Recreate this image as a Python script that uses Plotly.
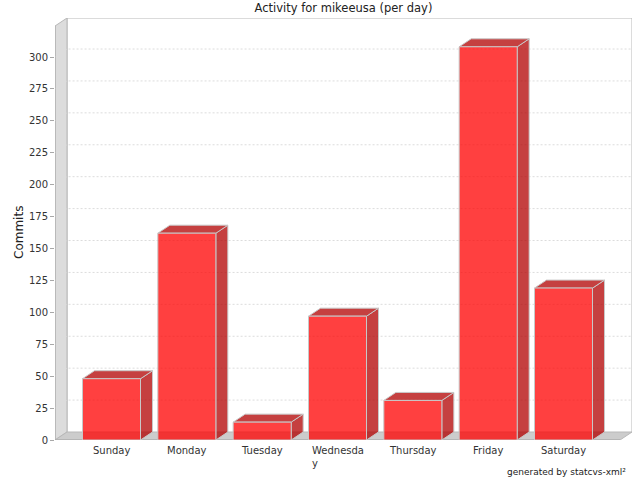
import plotly.graph_objects as go

# ---- data ----
categories = ["Sunday", "Monday", "Tuesday", "Wednesday", "Thursday", "Friday", "Saturday"]
tick_labels = ["Sunday", "Monday", "Tuesday", "Wednesda<br>y", "Thursday", "Friday", "Saturday"]
commits = [48, 162, 14, 97, 31, 308, 119]
y_ticks = [0, 25, 50, 75, 100, 125, 150, 175, 200, 225, 250, 275, 300]
chart_title = "Activity for mikeeusa (per day)"
y_title = "Commits"
footer = "generated by statcvs-xml²"

# ---- layout geometry ----
W, H = 640, 480
ML, MR, MT, MB = 55, 8, 18, 40
DX_PX, DY_PX = 12, 8          # 3D depth offset in pixels
X_LO = -0.75
X_HI_FRONT = len(categories) - 1 + 0.75
Y_MAX_FRONT = 324.3
BAR_HALF = 0.385

plot_w = W - ML - MR
plot_h = H - MT - MB
px_x = (plot_w - DX_PX) / (X_HI_FRONT - X_LO)
px_y = (plot_h - DY_PX) / Y_MAX_FRONT
dxu = DX_PX / px_x
dyu = DY_PX / px_y
X_HI = X_HI_FRONT + dxu
Y_HI = Y_MAX_FRONT + dyu

FONT = "DejaVu Sans"
fig = go.Figure()

def poly(xs, ys, fill, line, width=1, dash=None):
    fig.add_trace(go.Scatter(x=xs, y=ys, mode="lines", fill="toself", fillcolor=fill,
                             line=dict(color=line, width=width, dash=dash),
                             hoverinfo="skip", showlegend=False))

def lines(xs, ys, color, width=1, dash=None):
    fig.add_trace(go.Scatter(x=xs, y=ys, mode="lines",
                             line=dict(color=color, width=width, dash=dash),
                             hoverinfo="skip", showlegend=False, connectgaps=False))

# back wall border
lines([X_LO + dxu, X_LO + dxu, X_HI, X_HI], [dyu, Y_HI, Y_HI, dyu], "#b8b8b8")
# left wall
poly([X_LO, X_LO, X_LO + dxu, X_LO + dxu, X_LO], [0, Y_MAX_FRONT, Y_HI, dyu, 0],
     "#dcdcdc", "#b8b8b8")
# floor
poly([X_LO, X_HI_FRONT, X_HI, X_LO + dxu, X_LO], [0, 0, dyu, dyu, 0], "#cccccc", "#b8b8b8")

# gridlines (on back wall, with diagonal on the left wall)
gx, gy = [], []
for v in y_ticks[1:]:
    gx += [X_LO, X_LO + dxu, X_HI, None]
    gy += [v, v + dyu, v + dyu, None]
lines(gx, gy, "#dcdcdc", 1, "2px,2px")

# front axis line
lines([X_LO, X_LO], [0, Y_MAX_FRONT], "#a8a8a8")
lines([X_LO, X_HI_FRONT], [0, 0], "#a8a8a8")

# bars: front, top, side faces
fx, fy, tx, ty, sx, sy = [], [], [], [], [], []
for i, v in enumerate(commits):
    l, r = i - BAR_HALF, i + BAR_HALF
    fx += [l, r, r, l, l, None]
    fy += [0, 0, v, v, 0, None]
    tx += [l, r, r + dxu, l + dxu, l, None]
    ty += [v, v, v + dyu, v + dyu, v, None]
    sx += [r, r + dxu, r + dxu, r, r, None]
    sy += [0, dyu, v + dyu, v, 0, None]
poly(sx, sy, "rgba(178,0,0,0.75)", "#c8c8c8")
poly(tx, ty, "rgba(178,0,0,0.75)", "#c8c8c8")
poly(fx, fy, "rgba(255,0,0,0.75)", "#c8c8c8")

# category labels
for i, lab in enumerate(tick_labels):
    fig.add_annotation(x=i, y=0, xref="x", yref="paper", text=lab, showarrow=False,
                       xanchor="center", yanchor="top", yshift=-3, align="left",
                       font=dict(family=FONT, size=10, color="#333333"))

fig.add_annotation(x=0, xref="paper", y=(plot_h - DY_PX) / 2 / plot_h, yref="paper",
                   text=y_title, textangle=-90, showarrow=False, xshift=-36,
                   xanchor="center", yanchor="middle",
                   font=dict(family=FONT, size=12, color="#222222"))
fig.add_annotation(x=1, xref="paper", y=0, yref="paper", text=footer, showarrow=False,
                   xanchor="right", yanchor="top", yshift=-25, xshift=-4,
                   font=dict(family=FONT, size=9, color="#222222"))

fig.update_layout(
    width=W, height=H, autosize=False,
    margin=dict(l=ML, r=MR, t=MT, b=MB, pad=0, autoexpand=False),
    paper_bgcolor="white", plot_bgcolor="white",
    title=dict(text=chart_title, x=0.5, xref="paper", xanchor="center",
               y=1 - 8 / H, yref="container", yanchor="middle",
               font=dict(family=FONT, size=11.5, color="#222222")),
    xaxis=dict(range=[X_LO, X_HI], showgrid=False, zeroline=False, showline=False,
               showticklabels=False, ticks="", fixedrange=True, automargin=False),
    yaxis=dict(range=[0, Y_HI], tickvals=y_ticks, ticktext=[str(t) for t in y_ticks],
               ticks="outside", ticklen=4, tickcolor="#a8a8a8", showgrid=False,
               zeroline=False, showline=False, automargin=False, fixedrange=True,
               tickfont=dict(family=FONT, size=10, color="#333333")),
)

fig.write_html("out.html", config={"displayModeBar": False, "staticPlot": True},
               post_script="document.body.style.margin='0';document.body.style.overflow='hidden';")
